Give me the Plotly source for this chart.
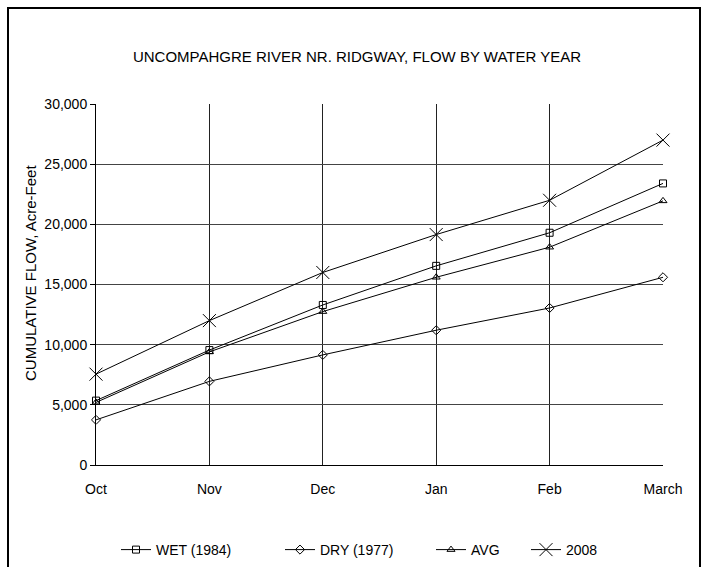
import plotly.graph_objects as go

months = ["Oct", "Nov", "Dec", "Jan", "Feb", "March"]
wet_1984 = [5350, 9550, 13300, 16550, 19300, 23400]
dry_1977 = [3750, 6950, 9150, 11200, 13050, 15600]
avg_flow = [5200, 9400, 12750, 15600, 18100, 21950]
y2008 = [7550, 12000, 16000, 19150, 22000, 27000]

y_ticks = [0, 5000, 10000, 15000, 20000, 25000, 30000]
y_ticktext = ["0", "5,000", "10,000", "15,000", "20,000", "25,000", "30,000"]

FONT = "Liberation Sans, Arial, sans-serif"

fig = go.Figure()
series = [
    ("WET (1984)", wet_1984, "square-open", 7, "legend", 158),
    ("DRY (1977)", dry_1977, "diamond-open", 7, "legend2", 322),
    ("AVG", avg_flow, "triangle-up-open", 7, "legend3", 473),
    ("2008", y2008, "x-thin-open", 13, "legend4", 568),
]
legends = {}
for name, vals, sym, sz, lg, text_x in series:
    fig.add_trace(go.Scatter(
        x=months, y=vals, name=name, mode="lines+markers",
        line=dict(color="black", width=1),
        marker=dict(symbol=sym, size=sz, color="black",
                    line=dict(color="black", width=1)),
        cliponaxis=False, legend=lg,
    ))
    legends[lg] = dict(orientation="h", x=(text_x - 42) / 709, xanchor="left",
                       xref="container", y=1 - 550 / 567, yanchor="middle",
                       yref="container", itemwidth=30,
                       bgcolor="rgba(0,0,0,0)",
                       font=dict(family=FONT, size=14, color="black"))

fig.update_layout(
    width=709, height=567,
    margin=dict(l=96, r=46, t=104, b=102),
    paper_bgcolor="white", plot_bgcolor="white",
    font=dict(family=FONT, size=14, color="black"),
    title=dict(text="UNCOMPAHGRE RIVER NR. RIDGWAY, FLOW BY WATER YEAR",
               x=357/709, xanchor="center", y=1-57/567, yanchor="middle",
               xref="container", yref="container",
               font=dict(family=FONT, size=15, color="black")),
    showlegend=True,
    xaxis=dict(type="category", range=[0, 5], showgrid=True, gridcolor="#222",
               gridwidth=1, showline=True, linecolor="black", linewidth=1,
               mirror=False, ticks="", ticklabelstandoff=11,
               tickfont=dict(family=FONT, size=14, color="black"), zeroline=False),
    yaxis=dict(range=[0, 30000], tickvals=y_ticks, ticktext=y_ticktext,
               showgrid=True, gridcolor="#444", gridwidth=1,
               showline=True, linecolor="black", linewidth=1,
               ticks="outside", ticklen=5, tickcolor="black",
               tickfont=dict(family=FONT, size=14, color="black"), zeroline=False),
    annotations=[dict(text="CUMULATIVE FLOW, Acre-Feet", textangle=-90,
                      xref="paper", yref="paper", x=(30-96)/567, y=(465-273)/361,
                      xanchor="center", yanchor="middle", showarrow=False,
                      font=dict(family=FONT, size=15, color="black"))],
    shapes=[dict(type="rect", xref="paper", yref="paper",
                 x0=(8-96)/567, x1=(700-96)/567, y0=-0.4, y1=(465-8)/361,
                 line=dict(color="black", width=2), fillcolor="rgba(0,0,0,0)",
                 layer="below")],
    **legends,
)

fig.write_html("out.html")
